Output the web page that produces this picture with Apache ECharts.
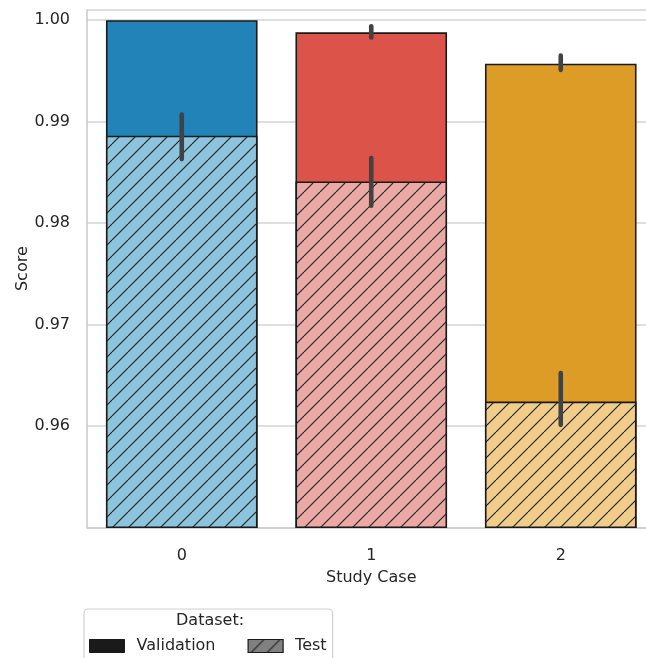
<!DOCTYPE html>
<html>
<head>
<meta charset="utf-8">
<script src="https://cdn.jsdelivr.net/npm/echarts@6/dist/echarts.min.js"></script>
<style>html,body{margin:0;padding:0;background:#fff;}#c{width:646px;height:658px;}</style>
</head>
<body>
<div id="c"></div>
<script>
// ---- data ----
var categories = ['0', '1', '2'];
var validationScores = [1.0000, 0.9988, 0.9957];
var testScores = [0.9886, 0.9841, 0.9624];
var validationErrLow = [1.0000, 0.9983, 0.9951];
var validationErrHigh = [1.0000, 0.9994, 0.9965];
var testErrLow = [0.9863, 0.9817, 0.9601];
var testErrHigh = [0.9907, 0.9864, 0.9652];
var validationColors = ['#2183b8', '#dc5349', '#dd9c26'];
var testColors = ['#8dc4dd', '#eba9a6', '#f1cd8c'];
var yMin = 0.95, yMax = 1.001, yInterval = 0.01;

var FONT = 'DejaVu Sans';
var FS = 16;
var TXT = '#262626';

function hatch(bg) {
  var s = 16;
  var c = document.createElement('canvas');
  c.width = s; c.height = s;
  var g = c.getContext('2d');
  g.fillStyle = bg; g.fillRect(0, 0, s, s);
  g.strokeStyle = '#1e1e1e'; g.lineWidth = 1.1;
  for (var k = -1; k <= 1; k++) {
    g.beginPath();
    g.moveTo(k * s, s);
    g.lineTo(k * s + s, 0);
    g.stroke();
  }
  return { image: c, repeat: 'repeat' };
}

var chart = echarts.init(document.getElementById('c'), null, { renderer: 'canvas' });

var valData = validationScores.map(function (v, i) {
  return { value: v, itemStyle: { color: validationColors[i] } };
});
var testData = testScores.map(function (v, i) {
  return { value: v, itemStyle: { color: hatch(testColors[i]) } };
});
var errData = [];
for (var i = 0; i < categories.length; i++) {
  errData.push([i, validationErrLow[i], validationErrHigh[i]]);
  errData.push([i, testErrLow[i], testErrHigh[i]]);
}

chart.setOption({
  animation: false,
  backgroundColor: '#fff',
  grid: { left: 87, width: 568.5, top: 10, height: 517.3, containLabel: false, outerBoundsMode: 'none' },
  xAxis: {
    type: 'category',
    data: categories,
    name: 'Study Case',
    nameLocation: 'middle',
    nameGap: 43,
    nameMoveOverlap: false,
    nameTextStyle: { fontFamily: FONT, fontSize: FS, color: TXT },
    axisLine: { show: true, lineStyle: { color: '#cccccc', width: 1.6 } },
    axisTick: { show: false },
    axisLabel: { fontFamily: FONT, fontSize: FS, color: TXT, margin: 21 },
    splitLine: { show: false }
  },
  yAxis: {
    type: 'value',
    min: yMin,
    max: yMax,
    interval: yInterval,
    name: 'Score',
    nameLocation: 'middle',
    nameGap: 56,
    nameMoveOverlap: false,
    nameTextStyle: { fontFamily: FONT, fontSize: FS, color: TXT },
    axisLine: { show: true, lineStyle: { color: '#cccccc', width: 1.6 } },
    axisTick: { show: false },
    axisLabel: {
      fontFamily: FONT, fontSize: FS, color: TXT, margin: 17,
      formatter: function (v) {
        if (Math.abs(v - yMin) < 1e-6 || v > 1.0005) return '';
        return v.toFixed(2);
      }
    },
    splitLine: { show: true, lineStyle: { color: '#d4d4d4', width: 1.6 } }
  },
  legend: {
    left: 84,
    top: 609,
    orient: 'horizontal',
    padding: [29, 6, 30, 5],
    itemWidth: 35,
    itemHeight: 13,
    itemGap: 32,
    borderColor: '#d0d0d0',
    borderWidth: 1.2,
    borderRadius: 4,
    backgroundColor: '#fff',
    textStyle: { fontFamily: FONT, fontSize: FS, color: TXT, padding: [0, 0, 0, 7] },
    data: [
      { name: 'Validation', icon: 'rect', itemStyle: { color: '#1a1a1a', borderColor: '#1a1a1a', borderWidth: 1 } },
      { name: 'Test', icon: 'rect', itemStyle: { color: hatch('#808080'), borderColor: '#1a1a1a', borderWidth: 1.2 } }
    ]
  },
  graphic: [{
    type: 'text',
    left: 176,
    top: 613,
    z: 100,
    style: { text: 'Dataset:', font: FS + 'px "DejaVu Sans"', fill: TXT }
  }],
  series: [
    {
      name: 'Validation',
      type: 'bar',
      barWidth: '80%',
      barGap: '-100%',
      itemStyle: { borderColor: '#1a1a1a', borderWidth: 1.6 },
      data: valData
    },
    {
      name: 'Test',
      type: 'bar',
      barWidth: '80%',
      barGap: '-100%',
      itemStyle: { borderColor: '#1a1a1a', borderWidth: 1.6 },
      data: testData
    },
    {
      name: 'err',
      type: 'custom',
      z: 5,
      renderItem: function (params, api) {
        var x = api.value(0);
        var p1 = api.coord([x, api.value(1)]);
        var p2 = api.coord([x, api.value(2)]);
        if (Math.abs(p1[1] - p2[1]) < 0.5) return null;
        return {
          type: 'line',
          shape: { x1: p1[0], y1: p1[1], x2: p2[0], y2: p2[1] },
          style: { stroke: '#424242', lineWidth: 4.6, lineCap: 'round' }
        };
      },
      encode: { x: 0, y: [1, 2] },
      data: errData
    }
  ]
});
</script>
</body>
</html>
